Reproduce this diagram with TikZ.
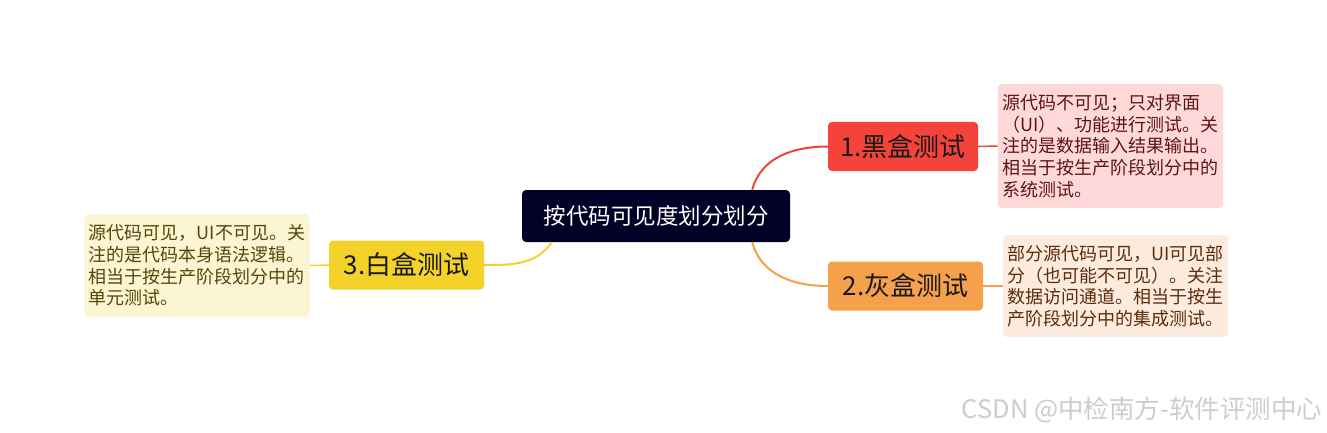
\documentclass[tikz,border=0pt]{standalone}
\usepackage{fontspec}
\setmainfont{Noto Sans CJK SC}
\usetikzlibrary{positioning}
\definecolor{mnavy}{RGB}{2,0,38}
\definecolor{mred}{RGB}{245,67,59}
\definecolor{morange}{RGB}{245,160,74}
\definecolor{myellow}{RGB}{243,210,42}
\definecolor{mpink}{RGB}{255,217,218}
\definecolor{mpeach}{RGB}{253,235,221}
\definecolor{mcream}{RGB}{252,245,211}
\definecolor{mmark}{RGB}{205,205,205}

\begin{document}
\begin{tikzpicture}[
  x=1pt,y=-1pt,
  root/.style={fill=mnavy,rounded corners=4pt,text=white,
               font=\fontsize{22.5}{27}\selectfont,
               minimum width=268pt,minimum height=52pt,inner sep=0pt},
  topic/.style={rounded corners=4pt,text=black!90,
                font=\fontsize{26}{30}\selectfont,
                minimum height=49pt,inner sep=0pt},
  note/.style={rounded corners=4pt,align=left,
               font=\fontsize{18}{21.6}\selectfont,
               inner xsep=4.5pt,inner ysep=0pt,minimum width=225pt},
  link/.style={line width=2pt},
  tie/.style={line width=1.5pt}
]
  \useasboundingbox (0,0) rectangle (1327,433);
  \node[root] (root) at (656,216) {按代码可见度划分划分};
  \node[topic,fill=mred,minimum width=150pt] (black) at (903,146.5) {1.黑盒测试};
  \node[topic,fill=morange,minimum width=155pt] (grey) at (905.5,286) {2.灰盒测试};
  \node[topic,fill=myellow,minimum width=155pt] (white) at (406.5,265) {3.白盒测试};
  \node[note,fill=mpink,text={rgb,255:red,95;green,20;blue,20},minimum height=124pt]
    (nblack) at (1110.5,146)
    {源代码不可见；只对界面\\（UI）、功能进行测试。关\\注的是数据输入结果输出。\\
     相当于按生产阶段划分中的\\系统测试。};
  \node[note,fill=mpeach,text={rgb,255:red,90;green,45;blue,15},minimum height=102pt]
    (ngrey) at (1115.5,286)
    {部分源代码可见，UI可见部\\分（也可能不可见）。关注\\数据访问通道。相当于按生\\
     产阶段划分中的集成测试。};
  \node[note,fill=mcream,text={rgb,255:red,85;green,70;blue,10},minimum height=103pt]
    (nwhite) at (197,265.5)
    {源代码可见，UI不可见。关\\注的是代码本身语法逻辑。\\相当于按生产阶段划分中的\\
     单元测试。};
  \node[text=mmark,font=\fontsize{25.5}{30}\selectfont] (mark) at (1142,410)
    {CSDN @中检南方-软件评测中心};
  % branches
  \draw[link,mred] ([xshift=-38pt]root.north east) to[out=75,in=180] (black.west);
  \draw[link,morange] ([xshift=-38pt]root.south east) to[out=-75,in=180] (grey.west);
  \draw[link,myellow] (white.east) to[out=0,in=-125] ([xshift=30pt]root.south west);
  \foreach \a/\b/\c in {black/nblack/mred,grey/ngrey/morange}
    \draw[tie,\c] (\a.east)--(\b.west);
  \draw[tie,myellow] (white.west)--(nwhite.east);
\end{tikzpicture}
\end{document}
